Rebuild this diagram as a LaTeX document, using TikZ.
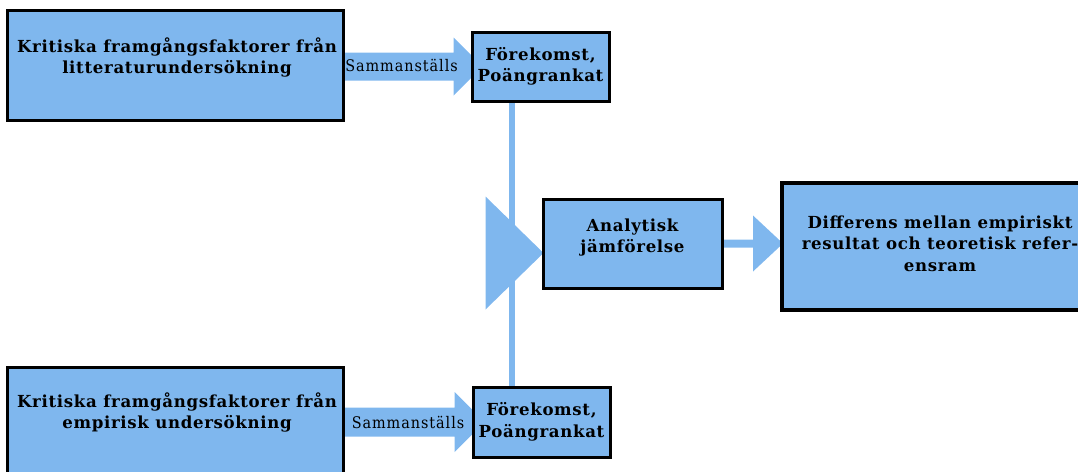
\documentclass[tikz,border=0pt]{standalone}
\usepackage{fontspec}
\usetikzlibrary{calc}
\newfontfamily\boxfont[LetterSpace=4]{DejaVu Serif}
\newfontfamily\lblfont[LetterSpace=6]{DejaVu Serif Condensed}
\definecolor{boxblue}{RGB}{127,183,238}
\pgfdeclarelayer{bg}
\pgfsetlayers{bg,main}
\tikzset{
  box/.style={draw=black, line width=3pt, fill=boxblue, inner sep=0pt},
  boxtxt/.style={align=center, inner sep=0pt, font=\boxfont\bfseries\fontsize{16.6}{21.5}\selectfont},
  lbl/.style={inner sep=0pt, font=\lblfont\fontsize{16}{18}\selectfont},
  flow/.style={fill=boxblue},
}
\begin{document}
\begin{tikzpicture}[x=1pt,y=-1pt]
\useasboundingbox (0,0) rectangle (1078,471);
% boxes
\node[box, minimum width=336pt, minimum height=110pt] (a1) at (175,65) {};
\node[box, minimum width=137pt, minimum height=69pt, boxtxt] (b1) at (540.5,66.5) {Förekomst,\\Poängrankat};
\node[box, minimum width=179pt, minimum height=89pt] (c) at (632.5,243.5) {};
\node[box, line width=4pt, minimum width=316pt, minimum height=127pt] (d) at (940,246.5) {};
\node[box, minimum width=336pt, minimum height=123pt] (a2) at (175,428.5) {};
\node[box, minimum width=137pt, minimum height=70pt, boxtxt] (b2) at (541.5,422) {Förekomst,\\Poängrankat};
% texts
\node[boxtxt] (a1t) at ($(a1.north)+(2,49)$) {Kritiska framgångsfaktorer från\\litteraturundersökning};
\node[boxtxt] (a2t) at ($(a2.north)+(2,47)$) {Kritiska framgångsfaktorer från\\empirisk undersökning};
\node[boxtxt] (ct) at ($(c.center)+(0,-6)$) {Analytisk\\jämförelse};
\node[boxtxt] (dt) at ($(d.center)+(0,-3)$) {Differens mellan empiriskt\\resultat och teoretisk refer-\\ensram};
% connectors
\begin{pgfonlayer}{bg}
\fill[flow] ($(a1.east |- b1.west)+(-2,-14)$) -- ($(b1.west)+(-17,-14)$) -- ($(b1.west)+(-17,-29)$)
  -- ($(b1.west)+(12,0)$) -- ($(b1.west)+(-17,29)$) -- ($(b1.west)+(-17,14)$)
  -- ($(a1.east |- b1.west)+(-2,14)$) -- cycle;
\fill[flow] ($(a2.east |- b2.west)+(-2,-14.5)$) -- ($(b2.west)+(-17,-14.5)$) -- ($(b2.west)+(-17,-30)$)
  -- ($(b2.west)+(13,0)$) -- ($(b2.west)+(-17,30)$) -- ($(b2.west)+(-17,14.5)$)
  -- ($(a2.east |- b2.west)+(-2,14.5)$) -- cycle;
\coordinate (v1) at ($(b1.south)+(-28.5,0)$);
\coordinate (v2) at ($(b2.north)+(-29.5,0)$);
\draw[draw=boxblue, line width=6pt] (v1) -- (v2);
\fill[flow] ($(c.west)+(-56,-47)$) -- ($(c.west)+(2,9.5)$) -- ($(c.west)+(-56,66)$) -- cycle;
\fill[flow] ($(c.east)+(-2,-4)$) -- ($(d.west)+(-27,-4-3)$) -- ($(d.west)+(-27,-28-3)$)
  -- ($(d.west)+(3,-3)$) -- ($(d.west)+(-27,28-3)$) -- ($(d.west)+(-27,4-3)$)
  -- ($(c.east)+(-2,4)$) -- cycle;
\end{pgfonlayer}
% labels
\node[lbl] (l1) at ($(a1.east |- b1.west)!0.5!(b1.west)+(-6,-1)$) {Sammanställs};
\node[lbl] (l2) at ($(a2.east |- b2.west)!0.5!(b2.west)+(0,0)$) {Sammanställs};
\end{tikzpicture}
\end{document}
